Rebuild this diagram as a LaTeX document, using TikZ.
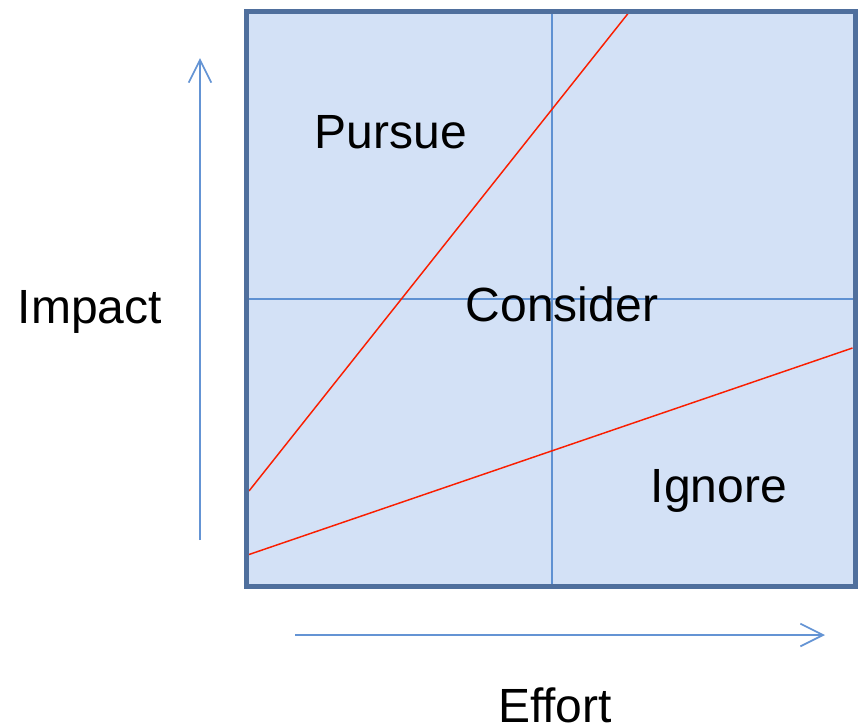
\documentclass[tikz,border=0pt]{standalone}
\usepackage{fontspec}
\setmainfont{Liberation Sans}
\usetikzlibrary{arrows.meta}
\definecolor{boxborder}{RGB}{79,111,157}
\definecolor{boxfill}{RGB}{211,225,246}
\definecolor{gridblue}{RGB}{95,145,210}
\definecolor{arrowblue}{RGB}{100,148,212}
\definecolor{redline}{RGB}{250,30,0}
\tikzset{
  lbl/.style={font=\fontsize{36}{40}\selectfont, anchor=base, inner sep=0pt, text=black},
  gridline/.style={draw=gridblue, line width=1.1pt},
  boundary/.style={draw=redline, line width=1.1pt},
  axis/.style={draw=arrowblue, line width=1.3pt, -{Straight Barb[length=17pt, width=17pt, line width=1.3pt]}}
}
\begin{document}
\begin{tikzpicture}[x=0.75pt, y=-0.75pt]
\useasboundingbox (0,0) rectangle (858,726);
% box
\coordinate (tl) at (246.5,11);
\coordinate (br) at (855,586.5);
\fill[boxfill] (tl) rectangle (br);
% grid lines
\coordinate (vt) at (552,13.5);
\coordinate (vb) at (552,584);
\coordinate (hl) at (249,299);
\coordinate (hr) at (852.5,299);
\draw[gridline] (vt) -- (vb);
\draw[gridline] (hl) -- (hr);
% red boundaries
\coordinate (r1a) at (249,491);
\coordinate (r1b) at (630,11);
\coordinate (r2a) at (249,554.5);
\coordinate (r2b) at (852.5,348);
\draw[boundary] (r1a) -- (r1b);
\draw[boundary] (r2a) -- (r2b);
\draw[draw=boxborder, line width=3.75pt] (tl) rectangle (br);
% axes
\coordinate (ya) at (200,540);
\coordinate (yb) at (200,58);
\coordinate (xa) at (295,635);
\coordinate (xb) at (825,635);
\draw[axis] (ya) -- (yb);
\draw[axis] (xa) -- (xb);
% labels
\node[lbl] (pursue) at (391,148) {Pursue};
\node[lbl] (consider) at (562,321) {Consider};
\node[lbl] (ignore) at (719,502) {Ignore};
\node[lbl] (impact) at (90,323) {Impact};
\node[lbl] (effort) at (555,722) {Effort};
\end{tikzpicture}
\end{document}
